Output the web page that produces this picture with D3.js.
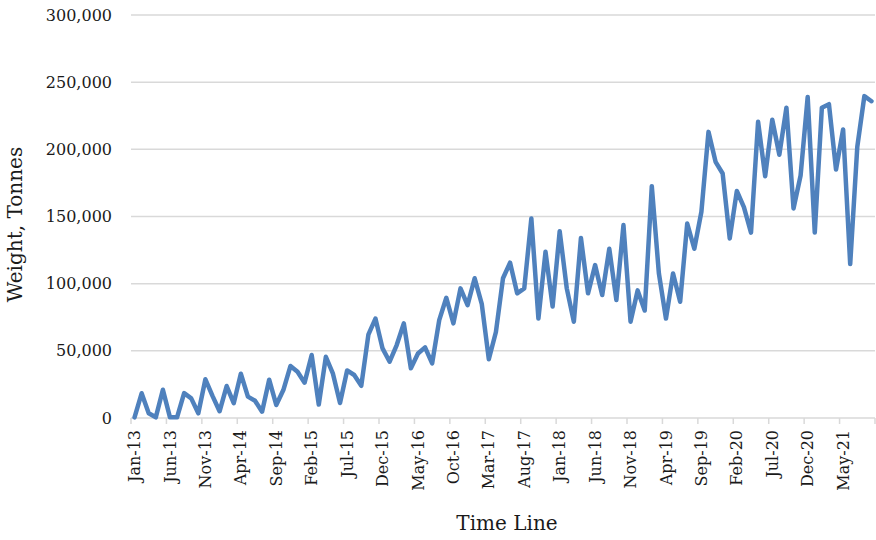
<!DOCTYPE html>
<html>
<head>
<meta charset="utf-8">
<script src="https://cdn.jsdelivr.net/npm/d3@7"></script>
<style>
  html, body { margin: 0; padding: 0; background: #fff; }
  svg { display: block; font-family: "DejaVu Serif", "Liberation Serif", serif; }
</style>
</head>
<body>
<div id="chart"></div>
<script>
// monthly series, Jan-13 .. Sep-21
const firstMonth = new Date(Date.UTC(2013, 0, 1));
const lastMonth = new Date(Date.UTC(2021, 8, 1));

const weights = [
    500, 18400, 3500, 500, 21000, 500, 500, 18500, 14600, 3500,
    28800, 16500, 5000, 23800, 11000, 33000, 15900, 12900, 4700, 28500,
    9700, 20800, 38700, 34400, 26300, 46900, 10000, 45600, 33000, 11200,
    35400, 32000, 24000, 62000, 74000, 51800, 41900, 54300, 70400, 37000,
    48000, 52600, 40700, 72900, 89500, 70400, 96500, 84000, 104000, 85000,
    43700, 64000, 104000, 115600, 92800, 96500, 148500, 74000, 123700, 83000,
    139000, 96500, 71700, 134000, 92800, 113800, 91500, 126000, 87800, 143600,
    71700, 95000, 80000, 172600, 107600, 74000, 107600, 86500, 144800, 126000,
    153500, 213000, 190700, 182000, 133700, 169000, 157000, 138000, 220500, 180000,
    222000, 196000, 231000, 156000, 180500, 239000, 138000, 231000, 233600, 185000,
    214800, 114600, 201800, 239600, 235800
];

const yTicks = [0, 50000, 100000, 150000, 200000, 250000, 300000];
const labelEvery = 5;

const months = d3.utcMonth.range(firstMonth, d3.utcMonth.offset(lastMonth, 1));
const fmtMonth = d3.utcFormat("%b-%y");
const data = months.map((m, i) => ({ month: m, key: fmtMonth(m), value: weights[i] }));

const width = 876, height = 540;
const margin = { top: 15, right: 1, bottom: 122, left: 131 };

const svg = d3.select("#chart").append("svg")
    .attr("width", width)
    .attr("height", height);

svg.append("rect").attr("width", width).attr("height", height).attr("fill", "#fff");

const x = d3.scaleBand()
    .domain(data.map(d => d.key))
    .range([margin.left, width - margin.right])
    .padding(0);

const y = d3.scaleLinear()
    .domain([0, 300000])
    .range([height - margin.bottom, margin.top]);

// gridlines
svg.append("g")
    .selectAll("line")
    .data(yTicks.slice(1))
    .join("line")
    .attr("x1", margin.left)
    .attr("x2", width - margin.right)
    .attr("y1", d => y(d))
    .attr("y2", d => y(d))
    .attr("stroke", "#d9d9d9")
    .attr("stroke-width", 1.5);

// y tick labels
svg.append("g")
    .selectAll("text")
    .data(yTicks)
    .join("text")
    .attr("x", margin.left - 19)
    .attr("y", d => y(d))
    .attr("dy", "0.35em")
    .attr("text-anchor", "end")
    .attr("font-size", "16px")
    .attr("fill", "#1a1a1a")
    .text(d3.format(","));

// x axis line + ticks at category boundaries
const x0 = y(0);
svg.append("line")
    .attr("x1", margin.left)
    .attr("x2", width - margin.right)
    .attr("y1", x0)
    .attr("y2", x0)
    .attr("stroke", "#d9d9d9")
    .attr("stroke-width", 1.5);

const tickKeys = data.filter((d, i) => i % labelEvery === 0).map(d => d.key);
const tickPos = tickKeys.map(k => x(k)).concat([width - margin.right]);
svg.append("g")
    .selectAll("line")
    .data(tickPos)
    .join("line")
    .attr("x1", d => d)
    .attr("x2", d => d)
    .attr("y1", x0)
    .attr("y2", x0 + 6)
    .attr("stroke", "#d9d9d9")
    .attr("stroke-width", 1.5);

// x tick labels, rotated
svg.append("g")
    .selectAll("text")
    .data(tickKeys)
    .join("text")
    .attr("transform", d => `translate(${x(d) + x.bandwidth() / 2},${x0 + 12}) rotate(-90)`)
    .attr("dy", "0.35em")
    .attr("text-anchor", "end")
    .attr("font-size", "16px")
    .attr("fill", "#1a1a1a")
    .text(d => d);

// series line
const line = d3.line()
    .x(d => x(d.key) + x.bandwidth() / 2)
    .y(d => y(d.value));

svg.append("path")
    .datum(data)
    .attr("fill", "none")
    .attr("stroke", "#4f81bd")
    .attr("stroke-width", 4.5)
    .attr("stroke-linejoin", "round")
    .attr("stroke-linecap", "round")
    .attr("d", line);

// axis titles
svg.append("text")
    .attr("x", (margin.left + width - margin.right) / 2 + 4)
    .attr("y", 530)
    .attr("text-anchor", "middle")
    .attr("font-size", "20px")
    .attr("fill", "#1a1a1a")
    .text("Time Line");

svg.append("text")
    .attr("transform", `translate(22,${(margin.top + x0) / 2 + 8}) rotate(-90)`)
    .attr("text-anchor", "middle")
    .attr("font-size", "20px")
    .attr("fill", "#1a1a1a")
    .text("Weight, Tonnes");
</script>
</body>
</html>
